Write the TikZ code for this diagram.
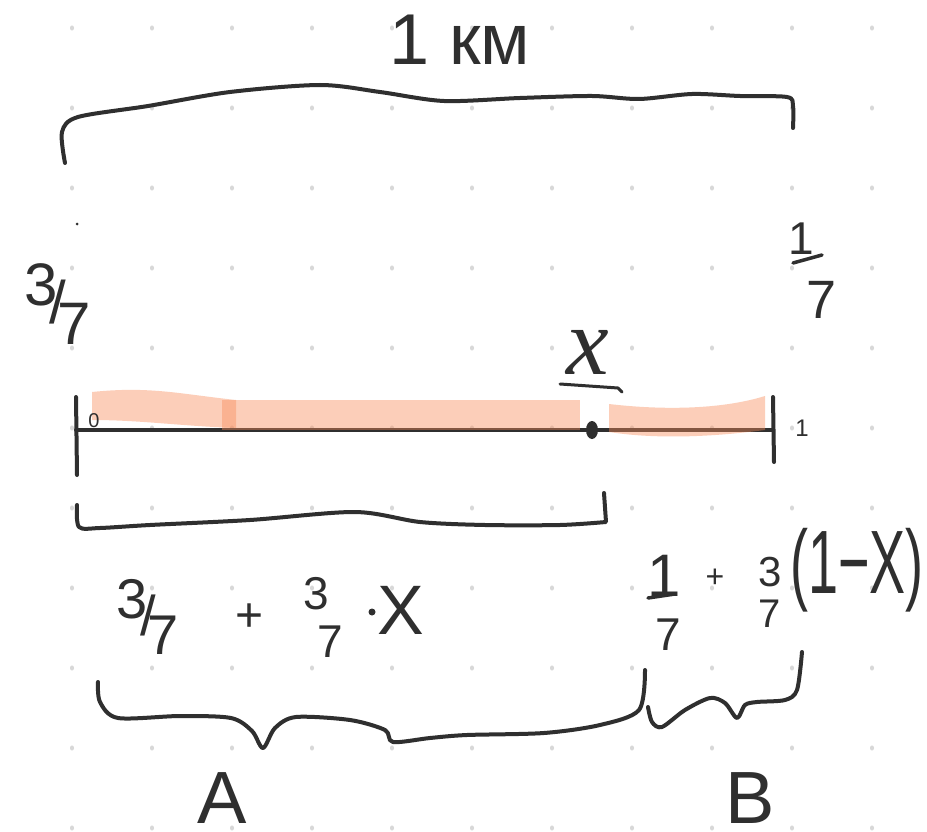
\documentclass[tikz,border=0pt]{standalone}
\usepackage{fontspec}
\setmainfont{Liberation Sans}
\newfontfamily\xfont{Liberation Serif}
\usepackage{graphicx}

\definecolor{inkgray}{HTML}{2F2F2F}
\definecolor{peach}{HTML}{F98C5A}
\definecolor{dotgray}{HTML}{D8D8D8}

\newcommand{\txtsize}[1]{\fontsize{#1}{#1}\selectfont}

\tikzset{
  ink/.style={line width=4pt, draw=inkgray, line cap=round, line join=round},
  hl/.style={fill=peach, fill opacity=0.42},
  lbl/.style={inner sep=0pt, text=inkgray},
}

\begin{document}
\begin{tikzpicture}[x=1pt,y=-1pt]
  \fill[white] (0,0) rectangle (927,832);
  \useasboundingbox (0,0) rectangle (927,832);
  \foreach \i in {0,...,10}
    \foreach \j in {0,...,10}
      \fill[dotgray] (72+80*\i,28+80*\j) ellipse (2pt and 2.6pt);

  % top brace
  \node[lbl] (km) at (460,40) {\txtsize{72}1 км};
  \draw[ink] plot[smooth] coordinates {(65,163) (62,132) (78,117) (148,106) (230,92) (320,85) (380,92) (444,101) (520,98) (592,96) (639,99) (692,94) (740,96) (787,97) (793,106) (793,128)};
  \fill[inkgray] (77,224) circle (1.5pt);

  % end values
  \node[lbl] (lfrac) at (58,304) {\txtsize{60}\raisebox{.3em}{3}\kern-.14em/\kern-.14em\raisebox{-.35em}{7}};
  \node[lbl] (rnum) at (801,239) {\txtsize{46}1};
  \draw[ink, line width=3.5pt] (793,263) -- (822,255);
  \node[lbl] (rden) at (822,300) {\txtsize{54}7};

  % number line
  \draw[ink] (76,430) -- (773,430);
  \draw[ink] (76,397) -- (77,475);
  \draw[ink] (773,397) -- (774,462);
  \fill[hl] (92,392) .. controls (150,386) and (180,394) .. (236,400) -- (236,428) .. controls (180,426) and (140,420) .. (92,420) -- cycle;
  \fill[hl] (222,400) rectangle (580,430);
  \fill[hl] (609,404) .. controls (660,410) and (720,410) .. (765,396) -- (765,430) .. controls (720,436) and (660,440) .. (609,432) -- cycle;
  \fill[inkgray] (592,430) ellipse (6pt and 9pt);
  \node[lbl] (zero) at (94,421) {\txtsize{20}0};
  \node[lbl] (one) at (802,428) {\txtsize{24}1};
  \node[lbl] (xlab) at (588,352) {\xfont\itshape\txtsize{96}x};
  \draw[ink, line width=3pt] (560,384) -- (618,388) -- (622,392);

  % bracket under the line
  \draw[ink] plot[smooth] coordinates {(77,505) (79,527) (100,528) (150,525) (250,520) (355,512) (420,522) (485,525) (560,525) (606,522)} -- (604,493);

  % expression A
  \node[lbl] (afrac) at (148,617) {\txtsize{56}\raisebox{.3em}{3}\kern-.14em/\kern-.14em\raisebox{-.35em}{7}};
  \node[lbl] (aplus) at (250,618) {\txtsize{48}+};
  \node[lbl] (anum) at (316,594) {\txtsize{46}3};
  \node[lbl] (aden) at (330,642) {\txtsize{46}7};
  \fill[inkgray] (372,612) circle (3.5pt);
  \node[lbl] (ax) at (401,610) {\txtsize{70}X};

  % expression B
  \node[lbl] (bnum) at (664,576) {\txtsize{60}1};
  \draw[ink, line width=3.5pt] (648,598) -- (675,594);
  \node[lbl] (bden) at (668,635) {\txtsize{46}7};
  \node[lbl] (bplus) at (715,578) {\txtsize{32}+};
  \node[lbl] (bnum2) at (770,572) {\txtsize{42}3};
  \node[lbl] (bden2) at (770,614) {\txtsize{40}7};
  \node[lbl] (bpar) at (857,570) {\scalebox{0.6}[1]{\txtsize{90}(1−X)}};

  % braces A and B
  \draw[ink] plot[smooth] coordinates {(98,682) (100,702) (118,718) (180,716) (231,718) (252,731) (263,748) (275,728) (296,717) (350,720) (385,730) (393,742) (430,738) (467,735) (544,733) (600,725) (639,710) (645,670)};
  \draw[ink] plot[smooth] coordinates {(648,707) (652,722) (662,727) (685,710) (710,698) (725,703) (737,718) (745,705) (757,702) (785,700) (797,690) (802,652)};
  \node[lbl] (la) at (222,798) {\txtsize{74}A};
  \node[lbl] (lb) at (750,798) {\txtsize{74}B};
\end{tikzpicture}
\end{document}
